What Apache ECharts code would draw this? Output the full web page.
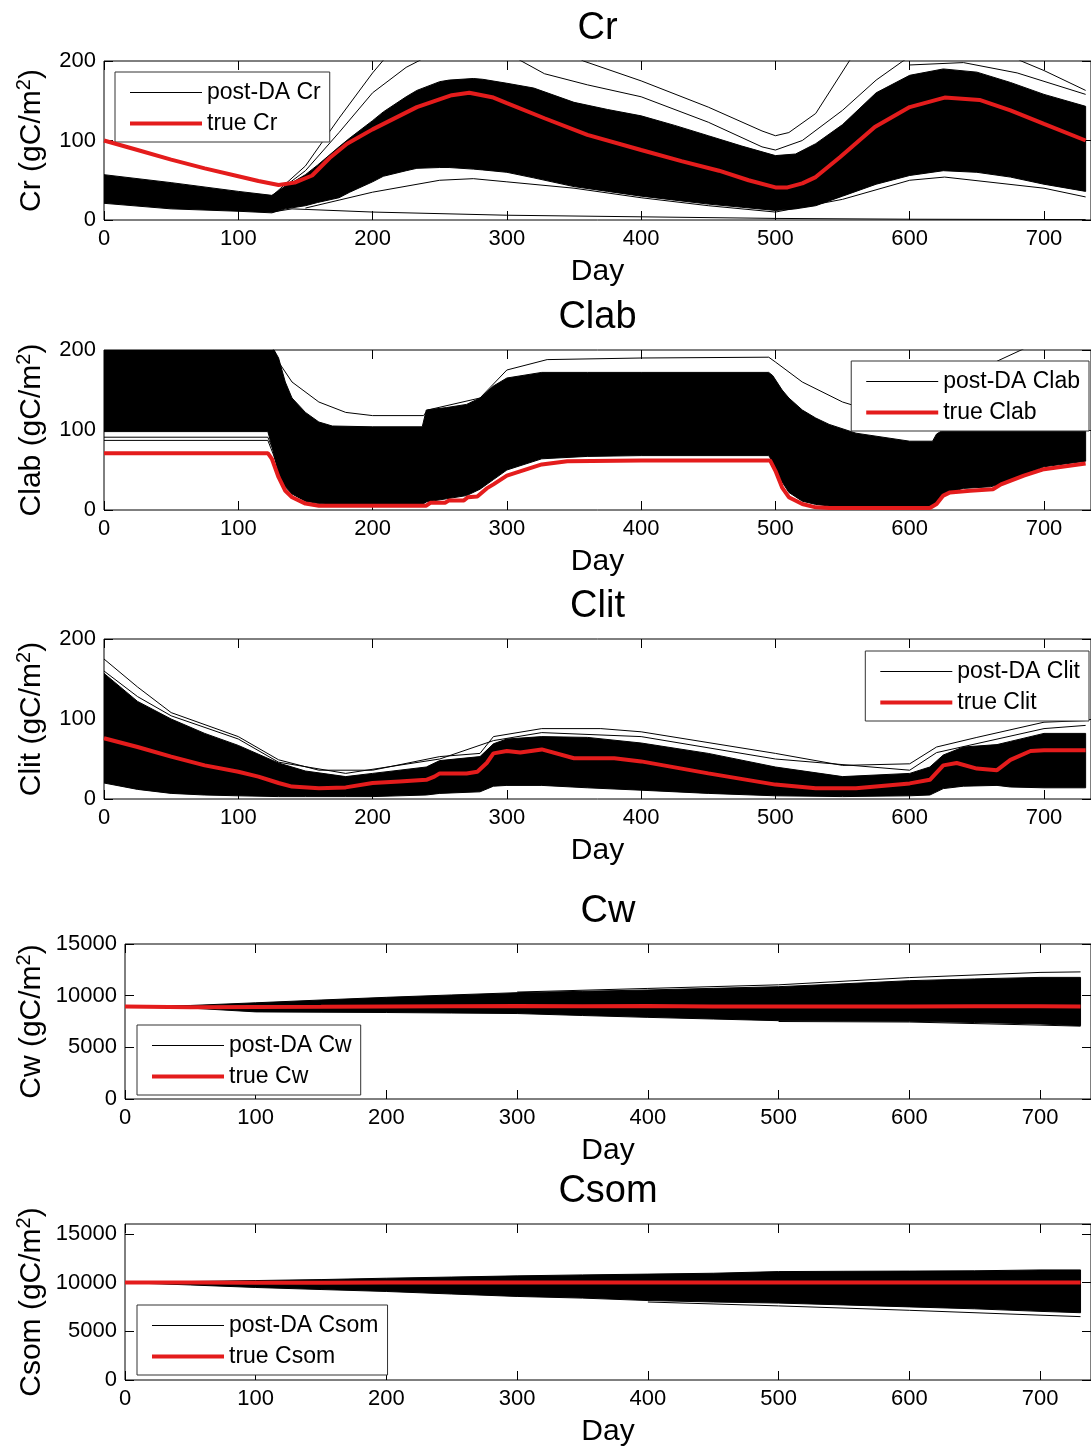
<!DOCTYPE html>
<html><head><meta charset="utf-8">
<script src="https://cdn.jsdelivr.net/npm/echarts@6/dist/echarts.min.js"></script>
<style>html,body{margin:0;padding:0;background:#fff}#c{width:1091px;height:1449px}</style>
</head><body><div id="c"></div>
<script>
// ---------------- DATA ----------------
// Cr
const crTrueDays = [0, 25, 50, 75, 100, 115, 130, 142, 155, 168, 181, 200, 233, 259, 272, 290, 300, 328, 360, 400, 430, 458, 480, 500, 509, 520, 530, 548, 574, 600, 626, 652, 675, 700, 731];
const crTrue     = [100, 88, 76, 65, 55, 49, 44, 47, 56, 78, 96, 114, 142, 157, 160, 154, 147, 128, 107, 88, 74, 62, 50, 41, 41, 46, 54, 79, 117, 142, 154, 151, 138, 121, 100];
const crBandDays = [0, 50, 100, 125, 135, 150, 159, 175, 183, 200, 208, 225, 233, 250, 257, 275, 282, 300, 320, 350, 375, 400, 425, 450, 475, 500, 515, 530, 550, 575, 600, 625, 650, 675, 700, 731];
const crBandHi   = [57, 47, 36, 31, 42, 57, 69, 92, 103, 125, 136, 155, 163, 174, 176, 178, 177, 172, 166, 148, 139, 131, 119, 106, 93, 81, 83, 96, 120, 160, 182, 190, 186, 173, 158, 143];
const crBandLo   = [21, 14, 11, 9, 14, 18, 22, 28, 35, 48, 55, 62, 65, 66, 66, 64, 63, 60, 53, 42, 36, 30, 25, 20, 16, 12, 14, 18, 30, 45, 56, 62, 60, 54, 45, 36];
const crOutADays = [125, 140, 200, 300, 400, 500, 600, 731];
const crOutA     = [10, 14, 10, 6, 4, 2, 1, 0.5];
const crOutBDays = [125, 150, 175, 200, 215, 330, 357, 400, 450, 490, 500, 510, 530, 555, 560, 600, 650, 683, 700, 731];
const crOutB     = [30, 68, 128, 185, 215, 225, 200, 175, 142, 112, 106, 110, 134, 200, 210, 240, 230, 200, 188, 163];
const crOutCDays = [125, 150, 175, 200, 225, 240, 300, 328, 360, 400, 450, 490, 500, 520, 550, 575, 595, 610];
const crOutC     = [30, 62, 110, 160, 192, 205, 210, 184, 170, 155, 123, 92, 88, 100, 138, 176, 200, 215];
const crOutDDays = [600, 640, 680, 731];
const crOutD     = [195, 198, 185, 158];
const crOutEDays = [150, 200, 250, 275, 300, 350, 400, 450, 500, 550, 600, 626, 700, 731];
const crOutE     = [15, 35, 50, 52, 48, 40, 28, 18, 10, 26, 50, 54, 40, 29];

// Clab
const clabTrueDays = [0, 122, 125, 130, 135, 140, 150, 160, 240, 243, 254, 257, 268, 271, 278, 285, 290, 300, 326, 345, 400, 496, 500, 505, 510, 520, 530, 540, 615, 620, 625, 630, 645, 662, 668, 685, 700, 731];
const clabTrue     = [71, 71, 64, 41, 24, 16, 8, 5.4, 5.4, 9, 9, 12, 12, 16, 17, 27, 32, 43, 57, 61, 62, 62, 49, 28, 16, 7.5, 3.3, 2.5, 2.5, 7.5, 18, 22, 24, 26, 32, 43, 51, 58];
const clabBandDays = [0, 122, 125, 130, 135, 140, 150, 160, 170, 200, 237, 240, 255, 270, 280, 290, 300, 326, 360, 400, 495, 498, 505, 510, 520, 530, 540, 560, 600, 617, 620, 625, 640, 660, 670, 686, 700, 731];
const clabBandLo   = [98, 98, 80, 46, 29, 20, 11, 8, 7, 7, 7, 10, 14, 18, 26, 38, 50, 64, 67, 68, 68, 60, 35, 22, 11, 7, 5, 5, 5, 5, 10, 20, 27, 29, 33, 45, 54, 61];
const clabBandHi   = [205, 205, 205, 190, 160, 140, 122, 110, 105, 104, 104, 125, 128, 132, 140, 155, 165, 172, 172, 172, 172, 168, 150, 140, 125, 115, 107, 96, 86, 86, 95, 100, 105, 110, 110, 110, 110, 110];
const clabOutADays = [0, 122, 126, 132, 140, 150, 170, 200, 240];
const clabOutA     = [87, 87, 70, 40, 22, 12, 8, 7, 7];
const clabOutBDays = [0, 122, 126, 132, 140, 160];
const clabOutB     = [91, 91, 75, 50, 30, 14];
const clabOutCDays = [125, 130, 140, 160, 180, 200, 238, 241, 280, 300, 330, 400, 495, 500, 520, 550, 575, 600, 618];
const clabOutC     = [205, 185, 160, 135, 122, 118, 118, 125, 140, 175, 188, 190, 191, 185, 160, 135, 122, 116, 115];
const clabOutDDays = [640, 665, 683, 700];
const clabOutD     = [150, 186, 200, 215];

// Clit
const clitTrueDays = [0, 25, 50, 75, 100, 115, 130, 140, 160, 180, 200, 220, 240, 246, 250, 270, 278, 285, 290, 300, 310, 326, 350, 380, 400, 450, 500, 530, 560, 600, 615, 625, 635, 650, 665, 675, 690, 700, 731];
const clitTrue     = [76, 65, 53, 42, 34, 28, 20, 15.5, 13.5, 14.5, 20, 22, 24, 28, 32, 32, 34, 45, 57, 60, 58, 62, 51, 51, 47, 32, 18, 13.5, 13.5, 19.5, 24, 42, 45, 38, 36, 49, 60, 61, 61];
const clitBandDays = [0, 25, 50, 75, 100, 130, 150, 180, 200, 240, 250, 280, 290, 300, 326, 360, 400, 450, 500, 550, 600, 615, 625, 640, 665, 675, 700, 731];
const clitBandHi   = [157, 122, 100, 82, 67, 45, 35, 28, 32, 40, 48, 53, 69, 75, 78, 77, 70, 57, 40, 28, 32, 40, 55, 65, 68, 72, 82, 82];
const clitBandLo   = [20, 12, 7, 5, 4, 3, 3, 3, 3, 5, 7, 9, 16, 17, 17, 14, 11, 7, 4, 3, 4, 5, 13, 16, 17, 15, 14, 14];
const clitOutADays = [0, 25, 50, 100, 130, 160, 200, 250, 280, 290, 326, 370, 400, 500, 550, 600, 620, 650, 700, 731];
const clitOutA     = [175, 140, 108, 78, 49, 36, 36, 53, 57, 78, 88, 88, 84, 57, 42, 44, 65, 77, 96, 98];
const clitOutBDays = [0, 25, 50, 100, 130, 180, 250, 290, 326, 400, 500, 600, 620, 700, 731];
const clitOutB     = [160, 128, 104, 75, 46, 32, 50, 73, 83, 78, 50, 36, 58, 88, 92];

// Cw
const cwDays   = [0, 50, 100, 150, 200, 250, 300, 350, 400, 450, 500, 550, 600, 650, 700, 731];
const cwTrue   = [8950, 8880, 8900, 8920, 8950, 8980, 8990, 8980, 8990, 8960, 8950, 8940, 8960, 8980, 8970, 8950];
const cwBandHi = [8980, 9050, 9310, 9580, 9840, 10070, 10290, 10420, 10550, 10710, 10870, 11150, 11450, 11620, 11770, 11770];
const cwBandLo = [8900, 8800, 8430, 8400, 8370, 8320, 8270, 8080, 7900, 7740, 7580, 7550, 7520, 7400, 7260, 7100];
const cwOutADays = [300, 400, 500, 600, 700, 731];
const cwOutA     = [10350, 10700, 11050, 11750, 12250, 12300];
const cwOutBDays = [500, 600, 700, 731];
const cwOutB     = [7500, 7450, 7150, 7050];

// Csom
const csomDays   = [0, 50, 100, 150, 200, 250, 300, 350, 400, 450, 500, 550, 600, 650, 700, 731];
const csomTrue   = [10000, 10000, 9980, 9980, 9990, 10000, 10000, 10000, 10000, 10000, 10000, 10000, 10000, 10000, 10000, 10000];
const csomBandHi = [10020, 10100, 10200, 10300, 10440, 10560, 10680, 10780, 10860, 10950, 11120, 11150, 11170, 11200, 11290, 11290];
const csomBandLo = [9980, 9750, 9490, 9280, 9080, 8820, 8570, 8400, 8150, 8000, 7890, 7700, 7500, 7300, 7040, 6900];
const csomOutADays = [400, 500, 600, 700, 731];
const csomOutA     = [8000, 7600, 7150, 6650, 6500];

const xTickInterval = 100;

// ---------------- LAYOUT ----------------
const FONT = '"Liberation Sans", Arial, Helvetica, sans-serif';
const RED = '#e41c1c';
const pairs = (d, v) => d.map((x, i) => [x, v[i]]);

const panels = [
  {key:'Cr', grid:{left:104, top:61, right:0, height:159}, xmax:735, ymax:200, yint:100, yMaxLabel:true, yGap:54,
   legend:{left:115, top:72}, band:[crBandDays, crBandLo, crBandHi],
   outs:[[crOutADays, crOutA],[crOutBDays, crOutB],[crOutCDays, crOutC],[crOutDDays, crOutD],[crOutEDays, crOutE]],
   truth:[crTrueDays, crTrue]},
  {key:'Clab', grid:{left:104, top:350, right:0, height:160}, xmax:735, ymax:200, yint:100, yMaxLabel:true, yGap:54,
   legend:{right:2, top:361}, band:[clabBandDays, clabBandLo, clabBandHi],
   outs:[[clabOutADays, clabOutA],[clabOutBDays, clabOutB],[clabOutCDays, clabOutC],[clabOutDDays, clabOutD]],
   truth:[clabTrueDays, clabTrue]},
  {key:'Clit', grid:{left:104, top:639, right:0, height:160}, xmax:735, ymax:200, yint:100, yMaxLabel:true, yGap:54,
   legend:{right:2, top:651}, band:[clitBandDays, clitBandLo, clitBandHi],
   outs:[[clitOutADays, clitOutA],[clitOutBDays, clitOutB]],
   truth:[clitTrueDays, clitTrue]},
  {key:'Cw', grid:{left:125, top:944, right:0, height:155}, xmax:739, ymax:15000, yint:5000, yMaxLabel:true, yGap:75,
   legend:{left:137, top:1025}, band:[cwDays, cwBandLo, cwBandHi],
   outs:[[cwOutADays, cwOutA],[cwOutBDays, cwOutB]],
   truth:[cwDays, cwTrue]},
  {key:'Csom', grid:{left:125, top:1224, right:0, height:156}, xmax:739, ymax:16000, yint:5000, yMaxLabel:false, yGap:75,
   legend:{left:137, top:1305}, band:[csomDays, csomBandLo, csomBandHi],
   outs:[[csomOutADays, csomOutA]],
   truth:[csomDays, csomTrue]}
];

const grids = [], xAxes = [], yAxes = [], series = [], legends = [];
const mkTick = () => ({show:true, inside:true, length:9, lineStyle:{color:'#000', width:1}});
const noLine = () => ({show:false, onZero:false});
const plainNum = v => String(v);

panels.forEach((p, i) => {
  grids.push(Object.assign({show:true, borderColor:'#000', borderWidth:1, containLabel:false, outerBoundsMode:'none'}, p.grid));
  xAxes.push({type:'value', gridIndex:i, position:'bottom', min:0, max:p.xmax, interval:xTickInterval,
    axisLine:noLine(), axisTick:mkTick(), splitLine:{show:false},
    axisLabel:{fontSize:22, color:'#000', fontFamily:FONT, margin:8, showMaxLabel:false, showMinLabel:true, formatter:plainNum},
    name:'Day', nameLocation:'middle', nameGap:37, nameMoveOverlap:false,
    nameTextStyle:{fontSize:30, color:'#000', fontFamily:FONT}});
  xAxes.push({type:'value', gridIndex:i, position:'top', min:0, max:p.xmax, interval:xTickInterval,
    axisLine:noLine(), axisTick:mkTick(), splitLine:{show:false}, axisLabel:{show:false},
    name:p.key, nameLocation:'middle', nameGap:13, nameMoveOverlap:false,
    nameTextStyle:{fontSize:38, color:'#000', fontFamily:FONT}});
  yAxes.push({type:'value', gridIndex:i, position:'left', min:0, max:p.ymax, interval:p.yint,
    axisLine:noLine(), axisTick:mkTick(), splitLine:{show:false},
    axisLabel:{fontSize:22, color:'#000', fontFamily:FONT, margin:8, showMaxLabel:p.yMaxLabel, formatter:plainNum},
    name:p.key + ' (gC/m{sup|2})', nameLocation:'middle', nameGap:p.yGap, nameMoveOverlap:false,
    nameTextStyle:{fontSize:30, color:'#000', fontFamily:FONT,
      rich:{sup:{fontSize:20, color:'#000', fontFamily:FONT, verticalAlign:'top', lineHeight:36}}}});
  yAxes.push({type:'value', gridIndex:i, position:'right', min:0, max:p.ymax, interval:p.yint,
    axisLine:noLine(), axisTick:mkTick(), splitLine:{show:false}, axisLabel:{show:false}});

  const [bd, lo, hi] = p.band;
  // ensemble envelope, drawn through the axis scales (api.coord)
  series.push({type:'custom', name:'post-DA ' + p.key + ' envelope', xAxisIndex:2*i, yAxisIndex:2*i,
    silent:true, z:2, data:[[bd[0], lo[0]]],
    renderItem:(params, api) => {
      const upper = bd.map((d, k) => api.coord([d, hi[k]]));
      const lower = bd.map((d, k) => api.coord([d, lo[k]])).reverse();
      const cs = params.coordSys;
      return {type:'polygon', shape:{points:upper.concat(lower)},
        style:{fill:'#000', stroke:'#000', lineWidth:1},
        clipPath:{type:'rect', shape:{x:cs.x, y:cs.y, width:cs.width, height:cs.height}}};
    }});
  const common = {type:'line', xAxisIndex:2*i, yAxisIndex:2*i, symbol:'none', showSymbol:false, silent:true};
  p.outs.forEach(o => {
    series.push(Object.assign({}, common, {name:'post-DA ' + p.key, z:3, color:'#000',
      data:pairs(o[0], o[1]), lineStyle:{color:'#000', width:1}}));
  });
  series.push(Object.assign({}, common, {name:'true ' + p.key, z:5, color:RED,
    data:pairs(p.truth[0], p.truth[1]), lineStyle:{color:RED, width:4}}));

  legends.push(Object.assign({orient:'vertical', selectedMode:false, backgroundColor:'#fff',
    borderColor:'#333', borderWidth:1, borderRadius:0, padding:[9, 9, 7, 13],
    itemWidth:72, itemHeight:14, itemGap:8, itemStyle:{opacity:0},
    textStyle:{fontSize:23, color:'#000', fontFamily:FONT},
    data:[{name:'post-DA ' + p.key, lineStyle:{color:'#000', width:1}},
          {name:'true ' + p.key, lineStyle:{color:RED, width:4}}]}, p.legend));
});

const chart = echarts.init(document.getElementById('c'), null, {renderer:'canvas', width:1091, height:1449});
chart.setOption({
  animation:false,
  backgroundColor:'#fff',
  grid:grids, xAxis:xAxes, yAxis:yAxes, legend:legends, series:series
});
</script>
</body></html>
